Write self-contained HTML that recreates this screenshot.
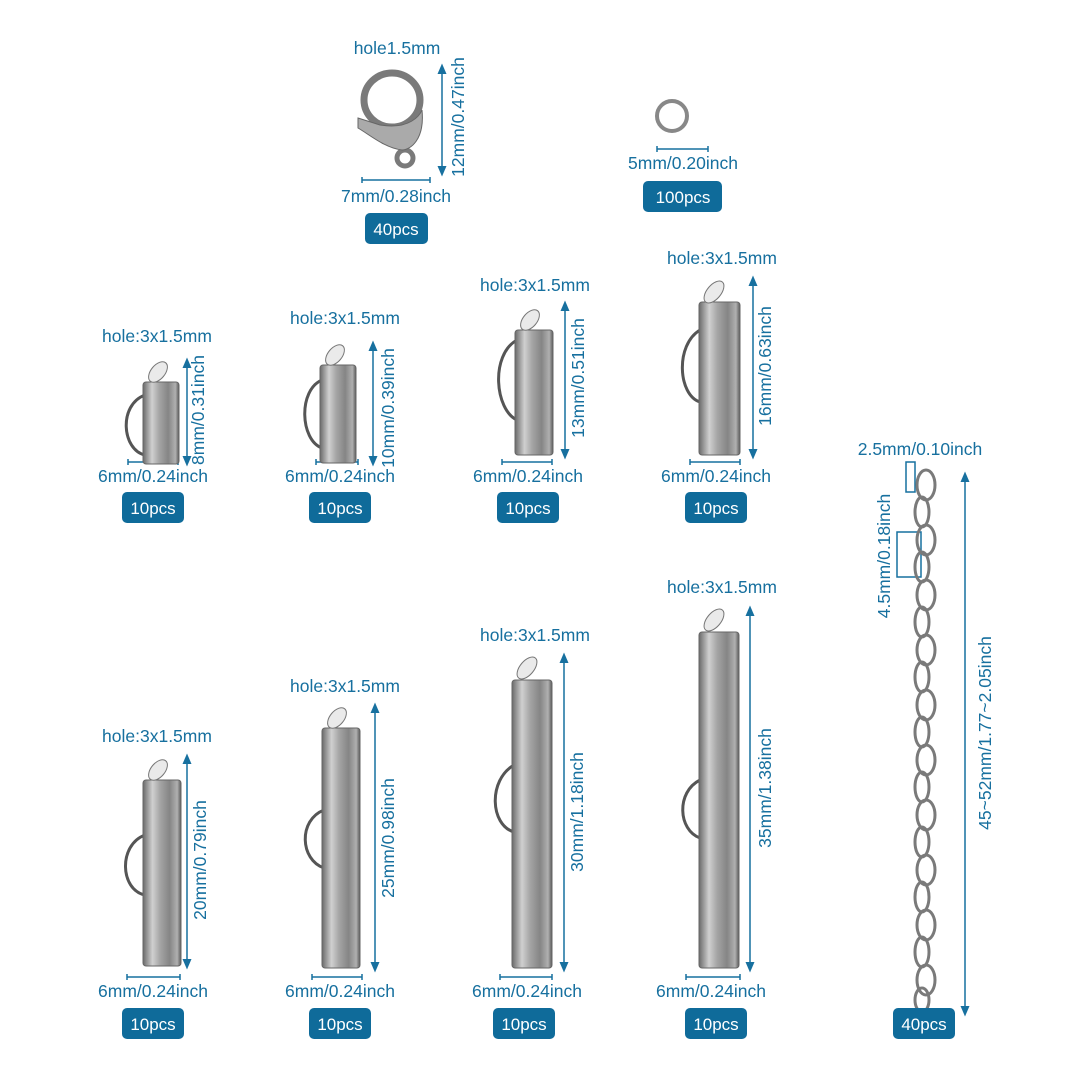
<!DOCTYPE html><html><head><style>body{margin:0;background:#fff}svg{display:block}text{font-family:"Liberation Sans",sans-serif;font-size:17.5px;fill:#17709f}.b text{fill:#fff;font-size:17px}</style></head><body>
<svg width="1080" height="1080" viewBox="0 0 1080 1080">
<defs>
<linearGradient id="g" x1="0" x2="1"><stop offset="0" stop-color="#6a6a6a"/><stop offset=".25" stop-color="#d0d0d0"/><stop offset=".45" stop-color="#a5a5a5"/><stop offset=".7" stop-color="#858585"/><stop offset=".9" stop-color="#b0b0b0"/><stop offset="1" stop-color="#5a5a5a"/></linearGradient>
<marker id="a" markerWidth="8" markerHeight="8" refX="4" refY="4" orient="auto-start-reverse"><path d="M0,1 L7,4 L0,7z" fill="#17709f"/></marker>
</defs>
<g stroke="#17709f" stroke-width="1.5" fill="none">
<line x1="442" y1="68" x2="442" y2="172" marker-start="url(#a)" marker-end="url(#a)"/>
<line x1="187" y1="362" x2="187" y2="462" marker-start="url(#a)" marker-end="url(#a)"/>
<line x1="373" y1="345" x2="373" y2="462" marker-start="url(#a)" marker-end="url(#a)"/>
<line x1="565" y1="305" x2="565" y2="455" marker-start="url(#a)" marker-end="url(#a)"/>
<line x1="753" y1="280" x2="753" y2="455" marker-start="url(#a)" marker-end="url(#a)"/>
<line x1="187" y1="758" x2="187" y2="965" marker-start="url(#a)" marker-end="url(#a)"/>
<line x1="375" y1="707" x2="375" y2="968" marker-start="url(#a)" marker-end="url(#a)"/>
<line x1="564" y1="657" x2="564" y2="968" marker-start="url(#a)" marker-end="url(#a)"/>
<line x1="750" y1="610" x2="750" y2="968" marker-start="url(#a)" marker-end="url(#a)"/>
<line x1="965" y1="476" x2="965" y2="1012" marker-start="url(#a)" marker-end="url(#a)"/>
<path d="M362,180 H430 M362,177 V183 M430,177 V183"/>
<path d="M657,149 H708 M657,146 V152 M708,146 V152"/>
<path d="M128,462 H178 M128,459 V465 M178,459 V465"/>
<path d="M316,462 H358 M316,459 V465 M358,459 V465"/>
<path d="M502,462 H552 M502,459 V465 M552,459 V465"/>
<path d="M690,462 H740 M690,459 V465 M740,459 V465"/>
<path d="M127,977 H180 M127,974 V980 M180,974 V980"/>
<path d="M312,977 H362 M312,974 V980 M362,974 V980"/>
<path d="M500,977 H552 M500,974 V980 M552,974 V980"/>
<path d="M686,977 H740 M686,974 V980 M740,974 V980"/>
<rect x="906" y="462" width="9" height="30"/>
<rect x="897" y="532" width="24" height="45"/>
</g>
<g stroke="#555" stroke-width="3" fill="none">
<path d="M145,395 C118,405 122,450 145,455"/>
<path d="M322,380 C298,390 300,440 322,448"/>
<path d="M517,340 C490,355 495,410 517,420"/>
<path d="M700,330 C675,345 678,395 700,402"/>
<path d="M145,835 C118,845 120,890 145,895"/>
<path d="M324,810 C298,820 300,860 324,868"/>
<path d="M514,765 C488,780 490,825 514,832"/>
<path d="M700,780 C676,792 678,830 700,838"/>
</g>
<g fill="url(#g)" stroke="#666" stroke-width="1">
<rect x="143" y="382" width="36" height="82" rx="3"/>
<rect x="320" y="365" width="36" height="98" rx="3"/>
<rect x="515" y="330" width="38" height="125" rx="3"/>
<rect x="699" y="302" width="41" height="153" rx="3"/>
<rect x="143" y="780" width="38" height="186" rx="3"/>
<rect x="322" y="728" width="38" height="240" rx="3"/>
<rect x="512" y="680" width="40" height="288" rx="3"/>
<rect x="699" y="632" width="40" height="336" rx="3"/>
</g>
<g fill="#eaeaea" stroke="#777" stroke-width="1">
<ellipse cx="158" cy="372" rx="12" ry="7" transform="rotate(-50 158 372)"/>
<ellipse cx="335" cy="355" rx="12" ry="7" transform="rotate(-50 335 355)"/>
<ellipse cx="530" cy="320" rx="12" ry="7" transform="rotate(-50 530 320)"/>
<ellipse cx="714" cy="292" rx="13" ry="7" transform="rotate(-50 714 292)"/>
<ellipse cx="158" cy="770" rx="12" ry="7" transform="rotate(-50 158 770)"/>
<ellipse cx="337" cy="718" rx="12" ry="7" transform="rotate(-50 337 718)"/>
<ellipse cx="527" cy="668" rx="13" ry="7" transform="rotate(-50 527 668)"/>
<ellipse cx="714" cy="620" rx="13" ry="7" transform="rotate(-50 714 620)"/>
</g>
<g fill="none" stroke="#7a7a7a" stroke-width="7">
<ellipse cx="392" cy="100" rx="28" ry="27"/>
<circle cx="405" cy="158" r="8" stroke-width="5"/>
</g>
<path d="M358,118 L380,125 C410,130 420,115 422,110 C425,140 410,150 402,150 C385,148 370,135 358,128z" fill="#aaa" stroke="#666"/>
<circle cx="672" cy="116" r="15" fill="none" stroke="#888" stroke-width="4"/>
<g fill="none" stroke="#7a7a7a" stroke-width="3">
<ellipse cx="926" cy="485" rx="9" ry="15"/><ellipse cx="922" cy="512" rx="7" ry="15"/><ellipse cx="926" cy="540" rx="9" ry="15"/><ellipse cx="922" cy="567" rx="7" ry="15"/><ellipse cx="926" cy="595" rx="9" ry="15"/><ellipse cx="922" cy="622" rx="7" ry="15"/><ellipse cx="926" cy="650" rx="9" ry="15"/><ellipse cx="922" cy="677" rx="7" ry="15"/><ellipse cx="926" cy="705" rx="9" ry="15"/><ellipse cx="922" cy="732" rx="7" ry="15"/><ellipse cx="926" cy="760" rx="9" ry="15"/><ellipse cx="922" cy="787" rx="7" ry="15"/><ellipse cx="926" cy="815" rx="9" ry="15"/><ellipse cx="922" cy="842" rx="7" ry="15"/><ellipse cx="926" cy="870" rx="9" ry="15"/><ellipse cx="922" cy="897" rx="7" ry="15"/><ellipse cx="926" cy="925" rx="9" ry="15"/><ellipse cx="922" cy="952" rx="7" ry="15"/><ellipse cx="926" cy="980" rx="9" ry="15"/><ellipse cx="922" cy="1000" rx="7" ry="12"/>
</g>
<g text-anchor="middle">
<text x="397" y="54">hole1.5mm</text>
<text x="396" y="202">7mm/0.28inch</text>
<text x="683" y="169">5mm/0.20inch</text>
<text x="157" y="342">hole:3x1.5mm</text>
<text x="345" y="324">hole:3x1.5mm</text>
<text x="535" y="291">hole:3x1.5mm</text>
<text x="722" y="264">hole:3x1.5mm</text>
<text x="157" y="742">hole:3x1.5mm</text>
<text x="345" y="692">hole:3x1.5mm</text>
<text x="535" y="641">hole:3x1.5mm</text>
<text x="722" y="593">hole:3x1.5mm</text>
<text x="153" y="482">6mm/0.24inch</text>
<text x="340" y="482">6mm/0.24inch</text>
<text x="528" y="482">6mm/0.24inch</text>
<text x="716" y="482">6mm/0.24inch</text>
<text x="153" y="997">6mm/0.24inch</text>
<text x="340" y="997">6mm/0.24inch</text>
<text x="527" y="997">6mm/0.24inch</text>
<text x="711" y="997">6mm/0.24inch</text>
<text x="920" y="455">2.5mm/0.10inch</text>
<text transform="translate(464,117) rotate(-90)">12mm/0.47inch</text>
<text transform="translate(204,410) rotate(-90)">8mm/0.31inch</text>
<text transform="translate(394,408) rotate(-90)">10mm/0.39inch</text>
<text transform="translate(584,378) rotate(-90)">13mm/0.51inch</text>
<text transform="translate(771,366) rotate(-90)">16mm/0.63inch</text>
<text transform="translate(206,860) rotate(-90)">20mm/0.79inch</text>
<text transform="translate(394,838) rotate(-90)">25mm/0.98inch</text>
<text transform="translate(583,812) rotate(-90)">30mm/1.18inch</text>
<text transform="translate(771,788) rotate(-90)">35mm/1.38inch</text>
<text transform="translate(890,556) rotate(-90)">4.5mm/0.18inch</text>
<text transform="translate(991,733) rotate(-90)">45~52mm/1.77~2.05inch</text>
</g>
<g class="b" text-anchor="middle">
<g fill="#0f6b9a">
<rect x="365" y="213" width="63" height="31" rx="5"/>
<rect x="643" y="181" width="79" height="31" rx="5"/>
<rect x="122" y="492" width="62" height="31" rx="5"/>
<rect x="309" y="492" width="62" height="31" rx="5"/>
<rect x="497" y="492" width="62" height="31" rx="5"/>
<rect x="685" y="492" width="62" height="31" rx="5"/>
<rect x="122" y="1008" width="62" height="31" rx="5"/>
<rect x="309" y="1008" width="62" height="31" rx="5"/>
<rect x="493" y="1008" width="62" height="31" rx="5"/>
<rect x="685" y="1008" width="62" height="31" rx="5"/>
<rect x="893" y="1008" width="62" height="31" rx="5"/>
</g>
<text x="396" y="235">40pcs</text>
<text x="683" y="203">100pcs</text>
<text x="153" y="514">10pcs</text>
<text x="340" y="514">10pcs</text>
<text x="528" y="514">10pcs</text>
<text x="716" y="514">10pcs</text>
<text x="153" y="1030">10pcs</text>
<text x="340" y="1030">10pcs</text>
<text x="524" y="1030">10pcs</text>
<text x="716" y="1030">10pcs</text>
<text x="924" y="1030">40pcs</text>
</g>
</svg></body></html>
